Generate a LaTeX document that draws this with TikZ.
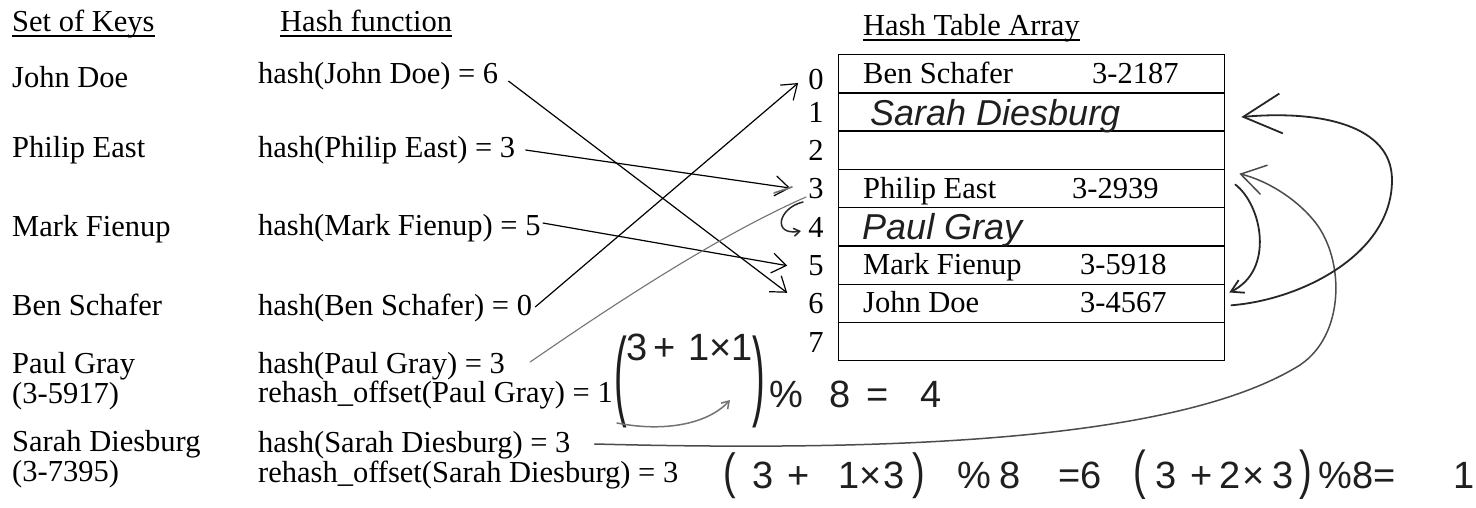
\documentclass[tikz,border=0pt]{standalone}
\usepackage{fontspec}
\usepackage{graphicx}
\setmainfont{Liberation Serif}
\newfontfamily\handfont{Liberation Sans}
\usetikzlibrary{arrows.meta,calc}
\tikzset{
  txt/.style={font=\fontsize{30.5}{33}\selectfont, inner sep=0pt, anchor=base west},
  idx/.style={font=\fontsize{30.5}{33}\selectfont, inner sep=0pt, anchor=base},
  cell/.style={draw, line width=1.3pt, minimum width=386pt, minimum height=38.25pt, inner sep=0pt, anchor=north west},
  hwname/.style={font=\handfont\itshape\fontsize{36}{40}\selectfont, inner sep=0pt, anchor=base west, text=black!88},
  hwmath/.style={font=\handfont\fontsize{38}{40}\selectfont, inner sep=0pt, anchor=base west, text=black!88},
  link/.style={line width=1.2pt, -{Straight Barb[length=14pt,width=20pt]}},
  pen/.style={line width=1.8pt, line cap=round, black!85},
  pencil/.style={line width=1.1pt, line cap=round, black!55},
  ul/.style={line width=1.1pt},
}
\newcommand{\tallp}[2]{\scalebox{1}[#1]{#2}}
\begin{document}
\begin{tikzpicture}[x=1pt,y=-1pt]
\fill[white] (0,0) rectangle (1476,508);
\useasboundingbox (0,0) rectangle (1476,508);

% headers
\node[txt] (k0) at (12,32) {Set of Keys};
\node[txt] (h0) at (280,32) {Hash function};
\node[txt] (t0) at (863,36) {Hash Table Array};
\foreach \n in {k0,h0,t0}
  \draw[ul] ($(\n.base west)+(0,4)$) -- ($(\n.base east)+(0,4)$);

% keys
\node[txt] (k1) at (12,88) {John Doe};
\node[txt] (k2) at (12,158) {Philip East};
\node[txt] (k3) at (12,236) {Mark Fienup};
\node[txt] (k4) at (12,315) {Ben Schafer};
\node[txt] (k5) at (12,373) {Paul Gray};
\node[txt] (k5b) at (12,403) {(3-5917)};
\node[txt] (k6) at (12,451) {Sarah Diesburg};
\node[txt] (k6b) at (12,481) {(3-7395)};

% hash function column
\node[txt] (h1) at (258,84) {hash(John Doe) = 6};
\node[txt] (h2) at (258,158) {hash(Philip East) = 3};
\node[txt] (h3) at (258,235) {hash(Mark Fienup) = 5};
\node[txt] (h4) at (258,315) {hash(Ben Schafer) = 0};
\node[txt] (h5) at (258,373) {hash(Paul Gray) = 3};
\node[txt] (h5r) at (258,402) {rehash\_offset(Paul Gray) = 1};
\node[txt] (h6) at (258,452) {hash(Sarah Diesburg) = 3};
\node[txt] (h6r) at (258,482) {rehash\_offset(Sarah Diesburg) = 3};

% table
\foreach \i in {0,...,7}
  \node[cell] (r\i) at (838,{54+38.25*\i}) {};
\node[idx] (i0) at (816,90) {0};
\foreach \i in {1,...,7}
  \node[idx] (i\i) at (816,{54+38.25*(\i+1)-8}) {\i};

\node[txt] (n0) at (863,83.25) {Ben Schafer};
\node[txt] (p0) at (1092,83.25) {3-2187};
\node[txt] (n3) at (863,198) {Philip East};
\node[txt] (p3) at (1072,198) {3-2939};
\node[txt] (n5) at (863,274.5) {Mark Fienup};
\node[txt] (p5) at (1080,274.5) {3-5918};
\node[txt] (n6) at (863,312.75) {John Doe};
\node[txt] (p6) at (1080,312.75) {3-4567};

% handwritten entries
\node[hwname] (w1) at (870,126) {Sarah Diesburg};
\node[hwname] (w4) at (862,240) {Paul Gray};

% printed arrows
\draw[link] ($(h1.base east)+(10,-3)$) -- ($(i6.west)+(-21,-11)$);
\draw[link] ($(h2.base east)+(10,-8)$) -- ($(i3.west)+(-18,-1)$);
\draw[link] ($(h3.base east)+(2,-12)$) -- ($(i5.west)+(-21,0)$);
\draw[link] ($(h4.base east)+(3,-8)$) -- ($(i0.west)+(-10,3)$);

% pencil line Paul Gray -> 3, hook to 4
\coordinate (pg3) at (806,197);
\draw[pencil] ($(h5.base east)+(25,-11)$) .. controls (620,300) and (720,235) .. (pg3);
\draw[pencil, line width=1.6pt] (774,193) -- (792,187);
\coordinate (pg4a) at (803,202);
\coordinate (pg4b) at (801,231);
\draw[pen, line width=1.5pt, -{Straight Barb[length=6pt,width=8pt]}] (pg4a) .. controls (778,208) and (772,236) .. (pg4b);

% handwritten formulas
\node[hwmath] (f1) at (614,407) {\tallp{2.6}{(}\raisebox{47pt}{3\hspace{6pt}+\hspace{12pt}1×1}\tallp{2.6}{)}\hspace{4pt}\%\hspace{26pt}8\hspace{16pt}=\hspace{32pt}4};
\node[hwmath] (f2) at (723,488) {\tallp{1.3}{(}\hspace{17pt}3\hspace{14pt}+\hspace{28pt}1×\hspace{2pt}3\hspace{8pt}\tallp{1.3}{)}\hspace{32pt}\%\hspace{8pt}8\hspace{38pt}=6};
\node[hwmath] (f3) at (1133,488) {\tallp{1.4}{(}\hspace{10pt}3\hspace{14pt}+\hspace{6pt}2\hspace{2pt}×\hspace{8pt}3\hspace{6pt}\tallp{1.4}{)}\hspace{6pt}\%8=\hspace{58pt}1};

% hook under 1x1
\coordinate (hk) at (730,400);
\draw[pencil, line width=1.5pt, -{Straight Barb[length=7pt,width=9pt]}] ($(h5r.base east)+(4,21)$) .. controls (662,432) and (707,425) .. (hk);

% long curve: Sarah Diesburg -> slot 3
\draw[pen, black!70, line width=1.5pt, -{Straight Barb[length=24pt,width=30pt]}]
  ($(h6.base east)+(24,-8)$) .. controls (900,452) and (1180,440) .. (1300,365)
  .. controls (1345,335) and (1345,260) .. (1315,222)
  .. controls (1295,197) and (1265,180) .. ($(r3.north east)+(14,5)$);
% slot 3 -> slot 6
\draw[pen, -{Straight Barb[length=12pt,width=14pt]}]
  ($(r3.east)+(10,-4)$) .. controls (1262,205) and (1275,270) .. ($(r6.north east)+(4,9)$);
% slot 6 -> slot 1
\draw[pen, -{Straight Barb[length=38pt,width=40pt]}]
  ($(r6.east)+(6,2)$) .. controls (1300,300) and (1392,255) .. (1392,180)
  .. controls (1392,125) and (1320,110) .. ($(r1.east)+(16,5)$);
\end{tikzpicture}
\end{document}
